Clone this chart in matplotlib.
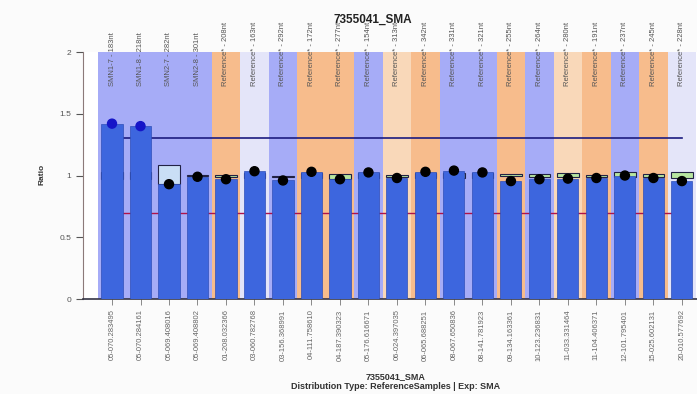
import matplotlib
matplotlib.use('Agg')
import matplotlib.pyplot as plt
from matplotlib.patches import Rectangle

# probe names (top) and sample ids (bottom)
probes = ['SMN1-7 - 183nt', 'SMN1-8 - 218nt', 'SMN2-7 - 282nt', 'SMN2-8 - 301nt',
          'Reference* - 208nt', 'Reference* - 163nt', 'Reference* - 292nt',
          'Reference* - 172nt', 'Reference* - 277nt', 'Reference* - 154nt',
          'Reference* - 313nt', 'Reference* - 342nt', 'Reference* - 331nt',
          'Reference* - 321nt', 'Reference* - 255nt', 'Reference* - 264nt',
          'Reference* - 280nt', 'Reference* - 191nt', 'Reference* - 237nt',
          'Reference* - 245nt', 'Reference* - 228nt']
positions = ['05-070.283495', '05-070.284161', '05-069.408016', '05-069.408802',
             '01-208.032366', '03-060.782768', '03-156.368991', '04-111.758610',
             '04-187.390323', '05-176.616671', '06-024.397035', '06-065.688251',
             '08-067.650836', '08-141.781923', '09-134.163361', '10-123.236831',
             '11-033.331464', '11-104.406371', '12-101.795401', '15-025.602131',
             '20-010.577692']
ratio = [1.42, 1.40, 0.93, 0.99, 0.97, 1.035, 0.96, 1.03, 0.97, 1.025, 0.98,
         1.03, 1.04, 1.025, 0.955, 0.97, 0.975, 0.98, 1.0, 0.98, 0.955]
# reference range boxes (low, high)
ref_low = [0.97, 0.97, 0.93, 0.995, 0.99, 0.98, 0.99, 0.98, 0.975, 0.98, 0.985,
           0.98, 0.98, 0.98, 0.996, 0.985, 0.99, 0.985, 0.985, 0.985, 0.977]
ref_high = [1.03, 1.03, 1.085, 1.005, 1.005, 1.02, 1.0, 1.02, 1.01, 1.02, 1.005,
            1.02, 1.02, 1.02, 1.012, 1.01, 1.023, 1.005, 1.03, 1.01, 1.028]
band_kind = ['b', 'b', 'b', 'b', 'o', 'l', 'b', 'o', 'o', 'b', 'p',
             'o', 'b', 'b', 'o', 'b', 'p', 'o', 'b', 'o', 'l']
upper_limit = 1.3
lower_limit = 0.7

band_colors = {'b': '#a6acf7', 'o': '#f7bc8c', 'p': '#f9d8b9', 'l': '#e4e5f9'}
box_colors = ['#b8e6a0'] * len(probes)
box_colors[2] = '#c9def5'

fig = plt.figure(figsize=(6.97, 3.94), dpi=100, facecolor='#fbfbfb')
ax = fig.add_axes([0.119, 0.241, 0.881, 0.627])
ax.set_facecolor('white')

x = list(range(len(probes)))

# background bands
for i, k in enumerate(band_kind):
    ax.add_patch(Rectangle((i - 0.5, 0), 1, 2, color=band_colors[k], lw=0, zorder=0))

# limit lines
ax.plot([0, 20], [upper_limit, upper_limit], color='#1c1c80', lw=1.2, zorder=1)
ax.plot([0, 20], [lower_limit, lower_limit], color='#b0134a', lw=1.0, zorder=1)

# reference boxes
for i in x:
    ax.add_patch(Rectangle((i - 0.38, ref_low[i]), 0.76, ref_high[i] - ref_low[i],
                           facecolor=box_colors[i], edgecolor='#222244', lw=0.8, zorder=2))

ax.bar(x, ratio, width=0.74, color='#3d66de', edgecolor='#2f4fb8', lw=0.5, zorder=3)

dot_colors = ['#1515c8' if r > upper_limit else 'black' for r in ratio]
ax.scatter(x, ratio, s=42, c=dot_colors, zorder=4)

# probe names on top of bands
for i, name in enumerate(probes):
    ax.text(i, 1.725, name, rotation=90, ha='center', va='bottom', fontsize=5.5,
            color='#555555', family='Liberation Sans', clip_on=False, zorder=5)

ax.set_xlim(-1.02, 20.53)
ax.set_ylim(0, 2)
ax.set_yticks([0, 0.5, 1, 1.5, 2])
ax.set_yticklabels(['0', '0.5', '1', '1.5', '2'])
ax.set_xticks(x)
ax.set_xticklabels(positions, rotation=90, fontsize=5.5, color='#666666',
                   family='Liberation Sans')
ax.tick_params(axis='y', labelsize=6, colors='#555555', length=5, width=0.8,
               direction='out')
ax.tick_params(axis='x', length=4, width=0.6, colors='#777777', labelcolor='#666666')
for lab in ax.get_yticklabels():
    lab.set_family('Liberation Sans')

ax.spines['top'].set_visible(False)
ax.spines['right'].set_visible(False)
ax.spines['left'].set_color('#8c7a7a')
ax.spines['bottom'].set_color('#333344')
ax.spines['bottom'].set_linewidth(1.2)

fig.text(0.535, 0.949, '7355041_SMA', ha='center', va='center', fontsize=8.5,
         fontweight='bold', family='Liberation Sans', color='#222222')
fig.text(0.060, 0.556, 'Ratio', rotation=90, ha='center', va='center', fontsize=6,
         fontweight='bold', family='Liberation Sans', color='#333333')
fig.text(0.567, 0.043, '7355041_SMA', ha='center', va='center', fontsize=6.5,
         fontweight='bold', family='Liberation Sans', color='#333333')
fig.text(0.567, 0.020, 'Distribution Type: ReferenceSamples | Exp: SMA', ha='center',
         va='center', fontsize=6.5, fontweight='bold', family='Liberation Sans',
         color='#333333')

fig.savefig('out.png', dpi=100, facecolor=fig.get_facecolor())
